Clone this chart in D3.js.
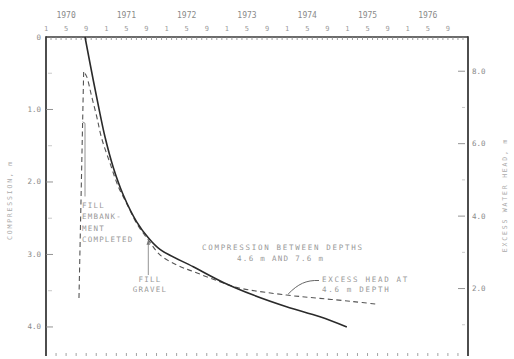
<!DOCTYPE html>
<html>
<head>
<meta charset="utf-8">
<script src="https://cdn.jsdelivr.net/npm/d3@7"></script>
<style>
  html, body { margin: 0; padding: 0; background: #fff; }
  svg { display: block; }
  text { font-family: "DejaVu Sans Mono", "Liberation Mono", monospace; }
</style>
</head>
<body>
<svg id="chart" width="514" height="359"></svg>
<script>
// ---------------- DATA ----------------
const yearLabels = [1970, 1971, 1972, 1973, 1974, 1975, 1976];
const monthLabels = [1, 5, 9];

const leftTickValues = [0, 1, 2, 3, 4];
const leftTickLabels = ["0", "1.0", "2.0", "3.0", "4.0"];
const leftMinorTicks = [0.5, 1.5, 2.5, 3.5];

const rightTickValues = [2, 4, 6, 8];
const rightTickLabels = ["2.0", "4.0", "6.0", "8.0"];
const rightMinorTicks = [1, 3, 5, 7];

// Compression between depths 4.6 m and 7.6 m (m), time in decimal years
const compTime = [1970.647, 1970.785, 1970.896, 1970.979, 1971.116, 1971.282, 1971.504,
                  1971.697, 1971.891, 1972.443, 1972.95, 1973.44, 1973.99, 1974.545, 1974.99];
const compValue = [0, 0.60, 1.06, 1.38, 1.80, 2.18, 2.55,
                   2.77, 2.93, 3.17, 3.39, 3.56, 3.72, 3.86, 4.0];

// Excess water head at 4.6 m depth (m)
const headTime = [1970.547, 1970.625, 1970.675, 1970.758, 1970.841, 1970.923, 1971.062,
                  1971.20, 1971.338, 1971.504, 1971.697, 1971.891, 1972.168, 1972.443,
                  1972.997, 1973.218, 1973.993, 1974.545, 1975.097, 1975.485];
const headValue = [1.74, 8.0, 7.85, 7.30, 6.75, 6.15, 5.46,
                   4.81, 4.35, 3.80, 3.34, 2.93, 2.65, 2.47,
                   2.12, 2.01, 1.82, 1.73, 1.64, 1.57];

// ---------------- LAYOUT ----------------
const svg = d3.select("#chart");
const pLeft = 46, pRight = 468, pTop = 37, pBottom = 356;

const x = d3.scaleLinear().domain([1970, 1977]).range([pLeft, pRight]);
const yL = d3.scaleLinear().domain([0, 4.5]).range([37, 363.2]);
const yR = d3.scaleLinear().domain([0, 9]).range([361, 35]);

const axisColor = "#3a3a3a";
const textColor = "#8a8a8a";
const annColor = "#999";

// frame
svg.append("line").attr("x1", pLeft).attr("x2", pRight).attr("y1", pTop).attr("y2", pTop)
  .attr("stroke", axisColor).attr("stroke-width", 1.6);
svg.append("line").attr("x1", pLeft).attr("x2", pLeft).attr("y1", pTop - 0.8).attr("y2", pBottom)
  .attr("stroke", axisColor).attr("stroke-width", 1.8);
svg.append("line").attr("x1", pRight).attr("x2", pRight).attr("y1", pTop - 0.8).attr("y2", pBottom)
  .attr("stroke", axisColor).attr("stroke-width", 1.8);

// top minor ticks (monthly)
const months = d3.range(1970, 1977, 1 / 12).slice(1);
svg.append("g").selectAll("line").data(months).join("line")
  .attr("x1", d => x(d)).attr("x2", d => x(d))
  .attr("y1", pTop).attr("y2", pTop + 3)
  .attr("stroke", "#888").attr("stroke-width", 0.8);

// bottom ticks (every 2 months)
const biMonths = d3.range(1970, 1977.01, 1 / 6).slice(1, -1);
svg.append("g").selectAll("line").data(biMonths).join("line")
  .attr("x1", d => x(d)).attr("x2", d => x(d))
  .attr("y1", pBottom - 3).attr("y2", pBottom)
  .attr("stroke", "#999").attr("stroke-width", 0.9);

// month labels
const monthPos = [];
yearLabels.forEach(yv => monthLabels.forEach(m => monthPos.push({ t: yv + (m - 1) / 12, m })));
svg.append("g").selectAll("text").data(monthPos).join("text")
  .attr("x", d => x(d.t)).attr("y", 31)
  .attr("text-anchor", "middle").attr("font-size", 7).attr("fill", "#999")
  .text(d => d.m);

// year labels
svg.append("g").selectAll("text").data(yearLabels).join("text")
  .attr("x", d => x(d + 4 / 12)).attr("y", 18)
  .attr("text-anchor", "middle").attr("font-size", 8).attr("fill", textColor)
  .text(d => d);

// left axis
const gL = svg.append("g");
gL.selectAll("line.maj").data(leftTickValues.slice(1)).join("line")
  .attr("x1", pLeft).attr("x2", pLeft + 7).attr("y1", d => yL(d)).attr("y2", d => yL(d))
  .attr("stroke", "#888").attr("stroke-width", 0.9);
gL.selectAll("line.min").data(leftMinorTicks).join("line")
  .attr("x1", pLeft + 2).attr("x2", pLeft + 6).attr("y1", d => yL(d)).attr("y2", d => yL(d))
  .attr("stroke", "#bbb").attr("stroke-width", 0.8);
gL.selectAll("text").data(leftTickValues).join("text")
  .attr("x", pLeft - 5).attr("y", d => yL(d) + 2.5)
  .attr("text-anchor", "end").attr("font-size", 7.5).attr("fill", textColor)
  .text((d, i) => leftTickLabels[i]);

// right axis
const gR = svg.append("g");
gR.selectAll("line.maj").data(rightTickValues).join("line")
  .attr("x1", pRight - 10).attr("x2", pRight - 3).attr("y1", d => yR(d)).attr("y2", d => yR(d))
  .attr("stroke", "#888").attr("stroke-width", 0.9);
gR.selectAll("line.min").data(rightMinorTicks).join("line")
  .attr("x1", pRight - 6).attr("x2", pRight - 3).attr("y1", d => yR(d)).attr("y2", d => yR(d))
  .attr("stroke", "#bbb").attr("stroke-width", 0.8);
gR.selectAll("text").data(rightTickValues).join("text")
  .attr("x", pRight + 4).attr("y", d => yR(d) + 2.5)
  .attr("text-anchor", "start").attr("font-size", 7.5).attr("fill", textColor)
  .text((d, i) => rightTickLabels[i]);

// axis titles
svg.append("text").attr("transform", "translate(12,200) rotate(-90)")
  .attr("text-anchor", "middle").attr("font-size", 6.5).attr("letter-spacing", 1.8)
  .attr("fill", "#aaa").text("COMPRESSION, m");
svg.append("text").attr("transform", "translate(507,195) rotate(-90)")
  .attr("text-anchor", "middle").attr("font-size", 6.5).attr("letter-spacing", 1.8)
  .attr("fill", "#aaa").text("EXCESS WATER HEAD, m");

// ---------------- SERIES ----------------
const compData = compTime.map((t, i) => [t, compValue[i]]);
const headData = headTime.map((t, i) => [t, headValue[i]]);

// rise of head during fill placement (straight), then dissipation (smooth)
const headLineStraight = d3.line().x(d => x(d[0])).y(d => yR(d[1]));
const headLineSmooth = d3.line().x(d => x(d[0])).y(d => yR(d[1])).curve(d3.curveCatmullRom.alpha(0.5));
svg.append("path")
  .attr("d", headLineStraight(headData.slice(0, 2)) + headLineSmooth(headData.slice(1)).replace(/^M/, "L"))
  .attr("fill", "none").attr("stroke", "#555").attr("stroke-width", 1.1)
  .attr("stroke-dasharray", "5,3.5");

svg.append("path").datum(compData)
  .attr("d", d3.line().x(d => x(d[0])).y(d => yL(d[1])).curve(d3.curveCatmullRom.alpha(0.5)))
  .attr("fill", "none").attr("stroke", "#2a2a2a").attr("stroke-width", 1.6);

// ---------------- ANNOTATIONS ----------------
function addLines(lines, x0, y0, dy, anchor, ls) {
  svg.append("g").selectAll("text").data(lines).join("text")
    .attr("x", x0).attr("y", (d, i) => y0 + i * dy)
    .attr("text-anchor", anchor).attr("font-size", 7.5).attr("letter-spacing", ls)
    .attr("fill", annColor).text(d => d);
}

// fill embankment completed
addLines(["FILL", "EMBANK-", "MENT", "COMPLETED"], 82, 208, 11.3, "start", 1.2);
const tFill = compTime[0];
svg.append("path")
  .attr("d", `M${x(tFill)},${yL(2.20)} L${x(tFill)},${yL(1.19)} L${x(tFill) - 2.5},${yL(1.17)}`)
  .attr("fill", "none").attr("stroke", "#777").attr("stroke-width", 0.8);

// fill gravel
addLines(["FILL", "GRAVEL"], 150, 282, 10, "middle", 1.2);
const tGr = compTime[7];
svg.append("line").attr("x1", x(tGr)).attr("x2", x(tGr))
  .attr("y1", yL(compValue[7]) + 3).attr("y2", 275)
  .attr("stroke", "#777").attr("stroke-width", 0.8);
svg.append("path")
  .attr("d", `M${x(tGr)},${yL(compValue[7]) + 2} l-1.8,5 l3.6,0 z`)
  .attr("fill", "#777");

// compression label
addLines(["COMPRESSION BETWEEN DEPTHS"], 202, 250, 11, "start", 1.7);
addLines(["4.6 m AND 7.6 m"], 237, 261, 11, "start", 1.3);

// excess head label + leader
addLines(["EXCESS HEAD AT", "4.6 m DEPTH"], 322, 282, 9.5, "start", 1.7);
const tip = [x(1974.0), yR(1.82)];
svg.append("path")
  .attr("d", `M319,280.5 C306,280 298,284 ${tip[0] + 1},${tip[1] - 1}`)
  .attr("fill", "none").attr("stroke", "#666").attr("stroke-width", 1);
</script>
</body>
</html>
